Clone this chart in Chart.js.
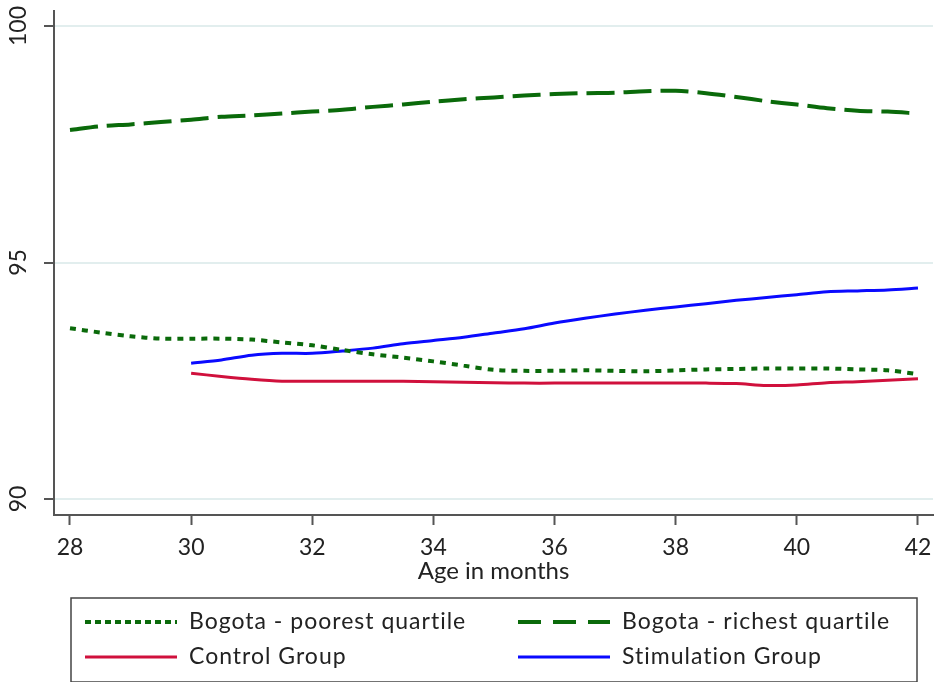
<!DOCTYPE html>
<html>
<head>
<meta charset="utf-8">
<script src="https://cdn.jsdelivr.net/npm/chart.js@4.4.0/dist/chart.umd.min.js"></script>
<style>
  html, body { margin: 0; padding: 0; background: #fff; }
  #wrap { width: 936px; height: 682px; position: relative; }
</style>
</head>
<body>
<div id="wrap"><canvas id="ageChart"></canvas></div>
<script>
var ages = [28, 28.5, 29, 29.5, 30, 30.5, 31, 31.5, 32, 32.5, 33, 33.5, 34, 34.5, 35,
            35.5, 36, 36.5, 37, 37.5, 38, 38.5, 39, 39.5, 40, 40.5, 41, 41.5, 42];
var poorest = [93.61, 93.52, 93.44, 93.39, 93.39, 93.39, 93.37, 93.31, 93.25, 93.15, 93.06, 92.99, 92.91, 92.82, 92.73,
               92.71, 92.71, 92.72, 92.71, 92.70, 92.72, 92.74, 92.75, 92.76, 92.76, 92.76, 92.74, 92.72, 92.64];
var richest = [97.80, 97.88, 97.92, 97.97, 98.02, 98.08, 98.11, 98.15, 98.19, 98.23, 98.29, 98.34, 98.40, 98.45, 98.49,
               98.53, 98.56, 98.58, 98.59, 98.62, 98.63, 98.58, 98.50, 98.41, 98.34, 98.26, 98.21, 98.19, 98.15];
var control = [null, null, null, null, 92.66, 92.59, 92.53, 92.49, 92.49, 92.49, 92.49, 92.49, 92.48, 92.47, 92.46,
               92.45, 92.45, 92.45, 92.45, 92.45, 92.45, 92.45, 92.44, 92.40, 92.41, 92.46, 92.48, 92.51, 92.54];
var stimulation = [null, null, null, null, 92.87, 92.94, 93.04, 93.08, 93.08, 93.13, 93.19, 93.28, 93.35, 93.42, 93.51,
                   93.60, 93.72, 93.82, 93.91, 93.99, 94.06, 94.13, 94.20, 94.26, 94.32, 94.38, 94.40, 94.42, 94.46];
var xTicks = [28, 30, 32, 34, 36, 38, 40, 42];
var yTicks = [90, 95, 100];
var seriesNames = ["Bogota - poorest quartile", "Bogota - richest quartile", "Control Group", "Stimulation Group"];

var fontName = "Lato, 'Open Sans', sans-serif";
var axisColor = "#555555";

function toPoints(values) {
    var pts = [];
    values.forEach((v, i) => { if (v !== null) pts.push({ x: ages[i], y: v }); });
    return pts;
}

// y tick labels, rotated like the original
var yLabelsPlugin = {
    id: "yLabels",
    afterDraw(chart) {
        var ctx = chart.ctx, ys = chart.scales.y;
        ctx.save();
        ctx.fillStyle = "#222";
        ctx.font = "23px " + fontName;
        ctx.textAlign = "center";
        ctx.textBaseline = "middle";
        yTicks.forEach((t) => {
            ctx.save();
            ctx.translate(19, ys.getPixelForValue(t));
            ctx.rotate(-Math.PI / 2);
            ctx.fillText(String(t), 0, 0);
            ctx.restore();
        });
        ctx.restore();
    }
};

// two-column legend in a box under the axis
var boxLegendPlugin = {
    id: "boxLegend",
    afterDraw(chart) {
        var ctx = chart.ctx;
        var ds = chart.data.datasets;
        ctx.save();
        ctx.strokeStyle = "#444";
        ctx.lineWidth = 1.5;
        ctx.strokeRect(71, 598, 846, 84);
        var slots = [[85, 622], [518, 622], [85, 657], [518, 657]];
        ds.forEach((d, i) => {
            var sx = slots[i][0], sy = slots[i][1];
            ctx.beginPath();
            ctx.setLineDash(d.legendDash || []);
            ctx.strokeStyle = d.borderColor;
            ctx.lineWidth = d.borderWidth;
            ctx.moveTo(sx, sy);
            ctx.lineTo(sx + 92, sy);
            ctx.stroke();
            ctx.setLineDash([]);
            ctx.fillStyle = "#222";
            ctx.font = "23px " + fontName;
            ctx.letterSpacing = "1px";
            ctx.textAlign = "left";
            ctx.textBaseline = "middle";
            ctx.fillText(d.label, sx + 104, sy);
        });
        ctx.restore();
    }
};

var chartData = {
    datasets: [
        {
            label: seriesNames[0],
            data: toPoints(poorest),
            borderColor: "#0a6a0a",
            borderWidth: 4,
            borderDash: [6, 6],
            legendDash: [6, 4],
            borderCapStyle: "butt",
            pointRadius: 0,
            tension: 0.3,
            fill: false
        },
        {
            label: seriesNames[1],
            data: toPoints(richest),
            borderColor: "#0a6a0a",
            borderWidth: 4,
            borderDash: [28, 9],
            legendDash: [23, 12],
            borderCapStyle: "butt",
            pointRadius: 0,
            tension: 0.3,
            fill: false
        },
        {
            label: seriesNames[2],
            data: toPoints(control),
            borderColor: "#d0103c",
            borderWidth: 3,
            pointRadius: 0,
            tension: 0.3,
            fill: false
        },
        {
            label: seriesNames[3],
            data: toPoints(stimulation),
            borderColor: "#0a0aff",
            borderWidth: 3,
            pointRadius: 0,
            tension: 0.3,
            fill: false
        }
    ]
};

var chartOptions = {
    responsive: true,
    maintainAspectRatio: false,
    animation: false,
    layout: { padding: { left: 0, right: 3, top: 11, bottom: 99 } },
    plugins: {
        legend: { display: false },
        tooltip: { enabled: false }
    },
    scales: {
        x: {
            type: "linear",
            min: 27.736,
            max: 42.248,
            afterBuildTicks: (scale) => { scale.ticks = xTicks.map((v) => ({ value: v })); },
            afterFit: (scale) => { scale.paddingLeft = 0; scale.paddingRight = 0; },
            grid: { drawOnChartArea: false, tickLength: 10, tickColor: axisColor, tickWidth: 2 },
            border: { color: axisColor, width: 2 },
            ticks: { color: "#222", font: { family: fontName, size: 23, lineHeight: 1 }, padding: 11, maxRotation: 0 },
            title: {
                display: true,
                text: "Age in months",
                color: "#222",
                font: { family: fontName, size: 24, lineHeight: 1 },
                padding: { top: -11, bottom: 0 }
            }
        },
        y: {
            min: 89.662,
            max: 100.317,
            afterBuildTicks: (scale) => { scale.ticks = yTicks.map((v) => ({ value: v })); },
            afterFit: (scale) => { scale.width = 54; },
            grid: { color: "#e2eeee", lineWidth: 2, tickLength: 10, tickColor: axisColor, tickWidth: 2 },
            border: { color: axisColor, width: 2 },
            ticks: { display: false }
        }
    }
};

new Chart(document.getElementById("ageChart").getContext("2d"), {
    type: "line",
    data: chartData,
    options: chartOptions,
    plugins: [yLabelsPlugin, boxLegendPlugin]
});
</script>
</body>
</html>
